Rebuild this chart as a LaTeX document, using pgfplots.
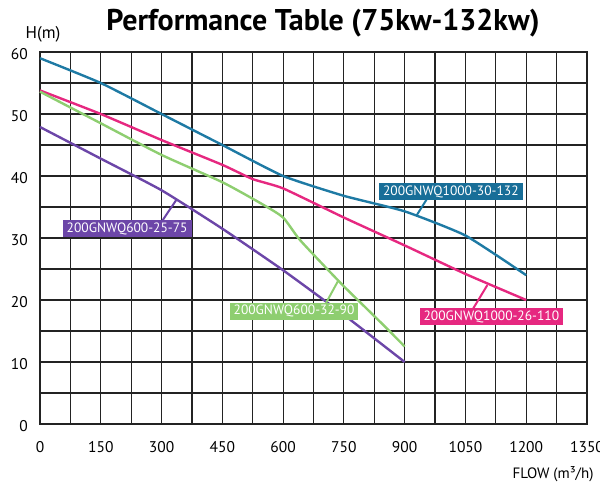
\documentclass[border=0pt]{standalone}
\usepackage{fontspec}
\setmainfont{PT Sans}
\usepackage{pgfplots}
\pgfplotsset{compat=1.18}
\definecolor{cblue}{RGB}{30,122,164}
\definecolor{cbluebox}{RGB}{24,110,152}
\definecolor{cpink}{RGB}{230,40,128}
\definecolor{cgreen}{RGB}{142,206,112}
\definecolor{cpurple}{RGB}{108,70,168}
\definecolor{gridc}{RGB}{35,35,35}
\begin{document}
\begin{tikzpicture}
\begin{axis}[
  name=ax,
  scale only axis,
  width=547pt, height=372pt,
  xmin=0, xmax=1350, ymin=0, ymax=60,
  xtick={0,150,...,1350},
  ytick={0,10,...,60},
  minor x tick num=1,
  minor y tick num=1,
  grid=both,
  major grid style={line width=1.2pt, gridc},
  minor grid style={line width=1.2pt, gridc},
  axis line style={line width=1.3pt, gridc},
  major tick length=0pt, minor tick length=0pt,
  /pgf/number format/assume math mode=true,
  /pgf/number format/1000 sep={},
  tick label style={font=\fontsize{15.5}{17}\selectfont},
  x tick label style={anchor=center, yshift=-23pt},
  y tick label style={anchor=east, inner sep=0pt, xshift=-12pt, yshift=-2pt},
  clip=false,
]
\addplot[cblue, line width=2.4pt, smooth, tension=0.3] coordinates {
  (0,59) (150,55) (300,50) (450,45) (600,40) (750,36.8) (900,34.3) (1050,30.4) (1200,24)
};
\addplot[cpink, line width=2.4pt, smooth, tension=0.3] coordinates {
  (0,53.8) (150,50) (300,45.8) (450,41.8) (525,39.5) (600,38) (750,33.3) (900,28.8) (1050,24.2) (1200,20)
};
\addplot[cgreen, line width=2.4pt, smooth, tension=0.35] coordinates {
  (0,53.6) (150,48.5) (300,43.4) (450,39) (550,35.4) (600,33.3) (640,29.8) (700,25.6) (750,22.2) (800,19) (850,15.8) (900,12.5)
};
\addplot[cpurple, line width=2.4pt, smooth, tension=0.3] coordinates {
  (0,47.9) (150,42.8) (300,37.7) (450,31.5) (600,24.8) (750,17.6) (900,10)
};
% label connectors
\draw[cblue, line width=2pt] (954,36.2) -- (929,33.6);
\draw[cpink, line width=2pt] (1067,18.4) -- (1104,22.4);
\draw[cpurple, line width=2pt] (302,32.8) -- (337,36.2);
\draw[cgreen, line width=2pt] (705,19.4) -- (735,23.0);
% labels
\tikzset{lbl/.style={text=white, font=\fontsize{13.5}{15}\selectfont, inner xsep=4pt, inner ysep=2.5pt}}
\node[lbl, fill=cbluebox] at (1014,37.5) {200GNWQ1000-30-132};
\node[lbl, fill=cpink] at (1114,17.3) {200GNWQ1000-26-110};
\node[lbl, fill=cpurple] at (215,31.5) {200GNWQ600-25-75};
\node[lbl, fill=cgreen] at (627,18.2) {200GNWQ600-32-90};
\end{axis}
\node[font=\fontsize{30}{33}\selectfont\bfseries] at ([shift={(283pt,401pt)}]ax.south west) {Performance Table (75kw-132kw)};
\node[font=\fontsize{17}{19}\selectfont] at ([shift={(3pt,390pt)}]ax.south west) {H(m)};
\node[font=\fontsize{15}{17}\selectfont, anchor=east] at ([shift={(557pt,-50pt)}]ax.south west) {FLOW (m³/h)};
\pgfresetboundingbox
\path[use as bounding box] ([shift={(-40pt,-61pt)}]ax.south west) rectangle ([shift={(560pt,424pt)}]ax.south west);
\end{tikzpicture}
\end{document}
